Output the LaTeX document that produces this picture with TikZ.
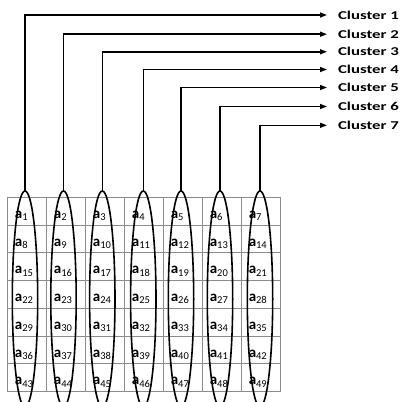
\documentclass[tikz,border=0pt]{standalone}
\usepackage{fontspec}
\setmainfont{Carlito}
\usetikzlibrary{shapes.geometric,arrows.meta}
\newcommand{\acell}[1]{\textbf{a}\raisebox{-2.3pt}{\fontsize{10.5}{11}\selectfont #1}}
\newcommand{\clab}[1]{\scalebox{1.4}[1]{Cluster #1}}
\begin{document}
\begin{tikzpicture}[x=1pt,y=-1pt,
  gridline/.style={draw=black!45,line width=0.9pt},
  cellbox/.style={anchor=base west,inner sep=0pt,font=\fontsize{15}{17}\selectfont},
  clus/.style={draw=black,ellipse,line width=1.6pt,minimum width=25.4pt,minimum height=216pt,inner sep=0pt,outer sep=0pt},
  lbl/.style={anchor=west,inner xsep=11pt,inner ysep=0pt,outer sep=0pt,font=\fontsize{12}{14}\selectfont\bfseries},
  conn/.style={draw=black,line width=1.5pt,-{Triangle[length=7pt,width=5pt]}}]
\path[use as bounding box] (0,0) rectangle (401,402);
% grid
\foreach \i in {0,...,7} {
  \draw[gridline] ({7.3+\i*38.96},197.3) -- ({7.3+\i*38.96},391.7);
  \draw[gridline] (7.3,{197.3+\i*27.77}) -- (280,{197.3+\i*27.77});
}
% cell texts
\foreach \r in {0,...,6} {
  \foreach \c in {0,...,6} {
    \pgfmathtruncatemacro{\n}{\r*7+\c+1}
    \node[cellbox] (c\n) at ({7.3+\c*38.96+7.5},{197.3+\r*27.77+21}) {\acell{\n}};
  }
}
% ellipses
\foreach \k/\x in {1/25,2/63.5,3/102.3,4/143.3,5/181,6/220,7/260} {
  \node[clus] (e\k) at (\x,299) {};
}
% labels
\foreach \k/\y in {1/15,2/34.2,3/51.8,4/69.5,5/87.5,6/106.5,7/125.3} {
  \node[lbl] (t\k) at (327,\y) {\clab{\k}};
}
% connectors
\foreach \k in {1,...,7} {
  \draw[conn] (e\k.north) |- (t\k.west);
}
\end{tikzpicture}
\end{document}
